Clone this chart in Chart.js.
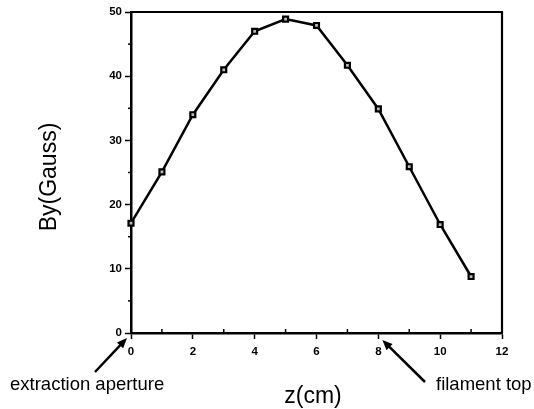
<!DOCTYPE html>
<html lang="en">
<head>
    <meta charset="UTF-8">
    <title>By vs z</title>
    <style>
        body {
            margin: 0;
            padding: 0;
            background-color: white;
        }
        #chartBox {
            width: 534px;
            height: 409px;
        }
    </style>
</head>
<body>
    <div id="chartBox">
        <canvas id="byChart" width="534" height="409"></canvas>
    </div>
    <script src="https://cdn.jsdelivr.net/npm/chart.js"></script>
    <script>
        // data
        const zValues = [0, 1, 2, 3, 4, 5, 6, 7, 8, 9, 10, 11];
        const byValues = [17.1, 25.1, 34.0, 41.0, 47.0, 48.9, 47.9, 41.7, 34.9, 25.9, 16.9, 8.8];
        const xTickLabels = [0, 2, 4, 6, 8, 10, 12];
        const yTickLabels = [0, 10, 20, 30, 40, 50];
        const xTitle = "z(cm)";
        const yTitle = "By(Gauss)";
        const leftNote = "extraction aperture";
        const rightNote = "filament top";

        const tickFont = { family: "Arial, 'Liberation Sans'", size: 11.5, weight: "bold" };

        function arrow(ctx, x1, y1, x2, y2) {
            // line from tail (x1,y1) to head (x2,y2)
            const ang = Math.atan2(y2 - y1, x2 - x1);
            const len = 11;
            ctx.beginPath();
            ctx.moveTo(x1, y1);
            ctx.lineTo(x2 - Math.cos(ang) * 6, y2 - Math.sin(ang) * 6);
            ctx.lineWidth = 2.5;
            ctx.stroke();
            ctx.beginPath();
            ctx.moveTo(x2, y2);
            ctx.lineTo(x2 - len * Math.cos(ang - 0.4), y2 - len * Math.sin(ang - 0.4));
            ctx.lineTo(x2 - len * Math.cos(ang + 0.4), y2 - len * Math.sin(ang + 0.4));
            ctx.closePath();
            ctx.fill();
        }

        const extras = {
            id: "extras",
            afterDraw(chart) {
                const ctx = chart.ctx;
                const a = chart.chartArea;
                const xs = chart.scales.x;
                const ys = chart.scales.y;
                ctx.save();
                ctx.strokeStyle = "black";
                ctx.fillStyle = "black";

                // top and right frame
                ctx.lineWidth = 2.2;
                ctx.beginPath();
                ctx.moveTo(a.left, a.top);
                ctx.lineTo(a.right, a.top);
                ctx.lineTo(a.right, a.bottom);
                ctx.stroke();

                // minor ticks
                ctx.lineWidth = 1.5;
                for (let v = 5; v < 50; v += 10) {
                    const py = ys.getPixelForValue(v);
                    ctx.beginPath();
                    ctx.moveTo(a.left - 3, py);
                    ctx.lineTo(a.left, py);
                    ctx.stroke();
                }
                for (let v = 1; v < 12; v += 2) {
                    const px = xs.getPixelForValue(v);
                    ctx.beginPath();
                    ctx.moveTo(px, a.bottom);
                    ctx.lineTo(px, a.bottom - 4);
                    ctx.stroke();
                }

                // titles
                ctx.font = "23px Arial, 'Liberation Sans'";
                ctx.textAlign = "center";
                ctx.textBaseline = "middle";
                ctx.fillText(xTitle, 313, 397);
                ctx.save();
                ctx.translate(50, 177);
                ctx.rotate(-Math.PI / 2);
                ctx.fillText(yTitle, 0, 0);
                ctx.restore();

                // notes with arrows
                ctx.font = "18.5px Arial, 'Liberation Sans'";
                ctx.textAlign = "left";
                ctx.fillText(leftNote, 10, 385);
                ctx.fillText(rightNote, 436, 385);

                const x0 = xs.getPixelForValue(0);
                const x8 = xs.getPixelForValue(8);
                arrow(ctx, 95, 372, x0 - 4, a.bottom + 5);
                arrow(ctx, 425, 382, x8 + 4, a.bottom + 7);

                ctx.restore();
            }
        };

        new Chart(document.getElementById("byChart"), {
            type: "line",
            data: {
                datasets: [{
                    data: zValues.map((z, i) => ({ x: z, y: byValues[i] })),
                    borderColor: "black",
                    borderWidth: 2.5,
                    pointStyle: "rect",
                    pointRadius: 3.5,
                    pointBorderWidth: 2.2,
                    pointBorderColor: "black",
                    pointBackgroundColor: "#bbbbbb",
                    tension: 0
                }]
            },
            options: {
                responsive: false,
                animation: false,
                clip: false,
                layout: { padding: { left: 0, top: 12, right: 32, bottom: 0 } },
                plugins: {
                    legend: { display: false },
                    tooltip: { enabled: false }
                },
                scales: {
                    x: {
                        type: "linear",
                        min: 0,
                        max: 12,
                        afterFit: (s) => { s.height = 76; },
                        border: { color: "black", width: 2.5 },
                        grid: {
                            drawOnChartArea: false,
                            tickLength: 6,
                            tickWidth: 1.5,
                            tickColor: (c) => xTickLabels.includes(c.tick.value) ? "black" : "rgba(0,0,0,0)"
                        },
                        ticks: {
                            stepSize: 1,
                            autoSkip: false,
                            maxRotation: 0,
                            padding: 6,
                            color: "black",
                            font: tickFont,
                            callback: (v) => xTickLabels.includes(v) ? String(v) : ""
                        }
                    },
                    y: {
                        min: 0,
                        max: 50,
                        afterFit: (s) => { s.width = 131; },
                        border: { color: "black", width: 2.5 },
                        grid: {
                            drawOnChartArea: false,
                            tickLength: 6,
                            tickWidth: 1.5,
                            tickColor: (c) => yTickLabels.includes(c.tick.value) ? "black" : "rgba(0,0,0,0)"
                        },
                        ticks: {
                            stepSize: 5,
                            autoSkip: false,
                            padding: 3,
                            color: "black",
                            font: tickFont,
                            callback: (v) => yTickLabels.includes(v) ? String(v) : ""
                        }
                    }
                }
            },
            plugins: [extras]
        });
    </script>
</body>
</html>
